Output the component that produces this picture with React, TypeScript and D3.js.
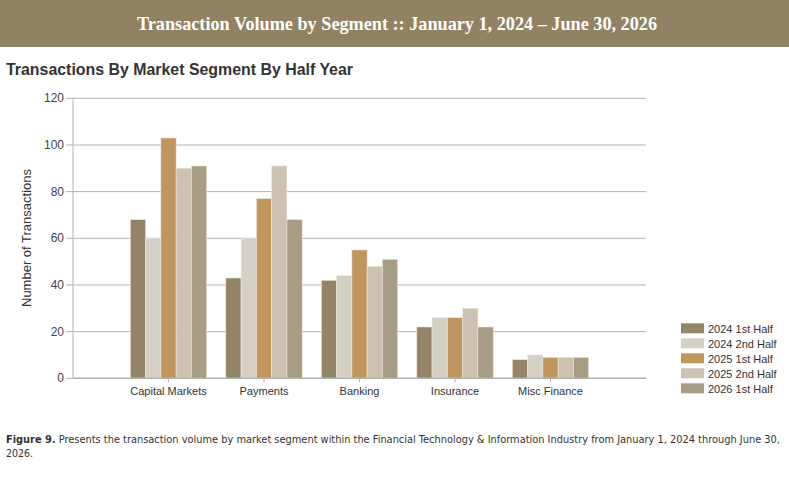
import React from "react";
import * as d3 from "d3";

const categories = ["Capital Markets", "Payments", "Banking", "Insurance", "Misc Finance"];
const seriesNames = ["2024 1st Half", "2024 2nd Half", "2025 1st Half", "2025 2nd Half", "2026 1st Half"];
const seriesColors = ["#958568", "#d5d0c5", "#c1965d", "#cbc2b2", "#a99c84"];
const h1_2024 = [68, 43, 42, 22, 8];
const h2_2024 = [60, 60, 44, 26, 10];
const h1_2025 = [103, 77, 55, 26, 9];
const h2_2025 = [90, 91, 48, 30, 9];
const h1_2026 = [91, 68, 51, 22, 9];
const seriesValues = [h1_2024, h2_2024, h1_2025, h2_2025, h1_2026];
const yTicks = [0, 20, 40, 60, 80, 100, 120];

const W = 789;
const H = 478;
const left = 73;
const right = 646;
const top = 98.3;
const bottom = 378.3;

export default function App() {
  const x = d3.scaleBand<string>().domain(categories).range([left, right]).paddingInner(0.2).paddingOuter(0.6);
  const xs = d3.scaleBand<string>().domain(seriesNames).range([0, x.bandwidth()]).padding(0);
  const y = d3.scaleLinear().domain([0, 120]).range([bottom, top]);
  const axisFont = "'Liberation Sans', Arial, sans-serif";

  return (
    <svg width={W} height={H} style={{ position: "absolute", left: 0, top: 0, background: "#fff" }}>
      <rect x={0} y={0} width={W} height={47} fill="#928264" />
      <text x={397} y={30} textAnchor="middle" fill="#fff" fontFamily="'Liberation Serif', 'DejaVu Serif', serif" fontWeight="bold" fontSize={19.5} textLength={520} lengthAdjust="spacingAndGlyphs">
        Transaction Volume by Segment :: January 1, 2024 – June 30, 2026
      </text>
      <text x={6} y={75} fill="#333" fontFamily={axisFont} fontWeight="bold" fontSize={16} textLength={347} lengthAdjust="spacingAndGlyphs">
        Transactions By Market Segment By Half Year
      </text>

      {yTicks.map((t) => (
        <g key={t}>
          <line x1={left} x2={right} y1={y(t)} y2={y(t)} stroke="#b4b4b4" strokeWidth={1} />
          <line x1={left - 7} x2={left} y1={y(t)} y2={y(t)} stroke="#b4b4b4" strokeWidth={1} />
          <text x={left - 9} y={y(t) + 4} textAnchor="end" fill="#444" fontFamily={axisFont} fontSize={12}>
            {t}
          </text>
        </g>
      ))}
      <line x1={left} x2={left} y1={top} y2={bottom} stroke="#b4b4b4" strokeWidth={1} />

      {categories.map((c, ci) => (
        <g key={c}>
          {seriesNames.map((s, si) => (
            <rect
              key={s}
              x={(x(c) ?? 0) + (xs(s) ?? 0)}
              y={y(seriesValues[si][ci])}
              width={xs.bandwidth()}
              height={bottom - y(seriesValues[si][ci])}
              fill={seriesColors[si]}
              stroke="#ece8e0"
              strokeWidth={0.6}
            />
          ))}
          <line x1={(x(c) ?? 0) + x.bandwidth() / 2} x2={(x(c) ?? 0) + x.bandwidth() / 2} y1={bottom} y2={bottom + 4} stroke="#b4b4b4" />
          <text x={(x(c) ?? 0) + x.bandwidth() / 2} y={395} textAnchor="middle" fill="#333" fontFamily={axisFont} fontSize={11}>
            {c}
          </text>
        </g>
      ))}
      <line x1={left} x2={right} y1={bottom} y2={bottom} stroke="#b4b4b4" strokeWidth={1.5} />

      <text transform={`translate(31,238) rotate(-90)`} textAnchor="middle" fill="#333" fontFamily={axisFont} fontSize={13}>
        Number of Transactions
      </text>

      {seriesNames.map((s, i) => (
        <g key={s} transform={`translate(681,${323.3 + i * 15})`}>
          <rect x={0} y={0} width={23} height={10} fill={seriesColors[i]} />
          <text x={27} y={9.5} fill="#333" fontFamily={axisFont} fontSize={11}>
            {s}
          </text>
        </g>
      ))}

      <text x={6} y={443} fill="#333" fontFamily="'DejaVu Sans Condensed', 'DejaVu Sans', sans-serif" fontSize={10.5} textLength={774} lengthAdjust="spacingAndGlyphs">
        <tspan fontWeight="bold">Figure 9.</tspan>
        <tspan> Presents the transaction volume by market segment within the Financial Technology &amp; Information Industry from January 1, 2024 through June 30,</tspan>
      </text>
      <text x={6} y={457} fill="#333" fontFamily="'DejaVu Sans Condensed', 'DejaVu Sans', sans-serif" fontSize={10.5}>
        2026.
      </text>
    </svg>
  );
}
